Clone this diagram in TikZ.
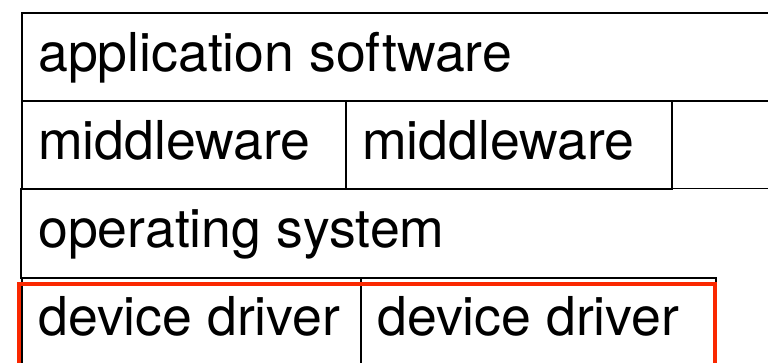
\documentclass[tikz,border=0pt]{standalone}
\usepackage{fontspec}
\setmainfont{TeX Gyre Heros}
\definecolor{hilite}{RGB}{250,40,0}
\begin{document}
\begin{tikzpicture}[x=1pt,y=-1pt,
  cell/.style={draw=black, line width=1.8pt, rectangle, anchor=north west,
    inner sep=0pt, minimum height=88.3pt},
  txt/.style={anchor=base west, inner sep=0pt,
    font=\fontsize{53.6}{60}\selectfont},
  hibox/.style={draw=hilite, line width=4pt, rectangle, anchor=north west,
    inner sep=0pt}]
  \clip (0,0) rectangle (768,363);
  \fill[white] (0,0) rectangle (768,363);

  % software stack layers
  \node[cell, minimum width=770pt] (app) at (21,12) {};
  \node[cell, minimum width=324pt] (mw1) at (21,100.3) {};
  \node[cell, minimum width=326pt] (mw2) at (345,100.3) {};
  \node[cell, draw=none, minimum width=770pt] (os) at (21,188.6) {};
  \draw[line width=1.8pt] (os.south west) -- (os.north west) -- (os.north east);
  \node[cell, minimum width=339pt, minimum height=130pt] (dd1) at (21,277) {};
  \node[cell, minimum width=355pt, minimum height=130pt] (dd2) at (360,277) {};

  % layer names
  \node[txt] (tapp) at ([xshift=17pt]app.north west |- 0,72) {application software};
  \node[txt] (tmw1) at ([xshift=17pt]mw1.north west |- 0,160) {middleware};
  \node[txt] (tmw2) at ([xshift=17pt]mw2.north west |- 0,160) {middleware};
  \node[txt] (tos)  at ([xshift=17pt]os.north west |- 0,248) {operating system};
  \node[txt] (tdd1) at ([xshift=17pt]dd1.north west |- 0,335) {device driver};
  \node[txt] (tdd2) at ([xshift=17pt]dd2.north west |- 0,335) {device driver};

  % highlight around the driver layer
  \node[hibox, minimum width=696pt, minimum height=130pt] (hl) at (17,282) {};
\end{tikzpicture}
\end{document}
